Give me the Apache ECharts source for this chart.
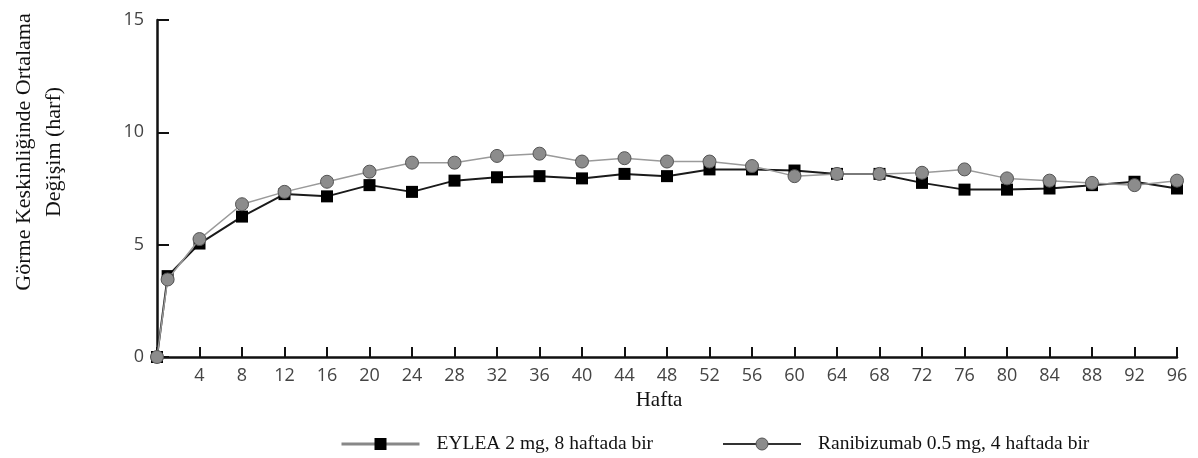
<!DOCTYPE html>
<html>
<head>
<meta charset="utf-8">
<script src="https://cdn.jsdelivr.net/npm/echarts@6/dist/echarts.min.js"></script>
<style>
html,body{margin:0;padding:0;background:#fff;}
#chart{width:1198px;height:458px;}
</style>
</head>
<body>
<div id="chart"></div>
<script>
// Weeks (x values)
const weeks = [0, 1, 4, 8, 12, 16, 20, 24, 28, 32, 36, 40, 44, 48, 52, 56, 60, 64, 68, 72, 76, 80, 84, 88, 92, 96];
// EYLEA 2 mg, every 8 weeks
const eylea = [0, 3.6, 5.05, 6.25, 7.25, 7.15, 7.65, 7.35, 7.85, 8.0, 8.05, 7.95, 8.15, 8.05, 8.35, 8.35, 8.3, 8.15, 8.15, 7.75, 7.45, 7.45, 7.5, 7.65, 7.8, 7.5];
// Ranibizumab 0.5 mg, every 4 weeks
const rani = [0, 3.45, 5.25, 6.8, 7.35, 7.8, 8.25, 8.65, 8.65, 8.95, 9.05, 8.7, 8.85, 8.7, 8.7, 8.5, 8.05, 8.15, 8.15, 8.2, 8.35, 7.95, 7.85, 7.75, 7.65, 7.85];
const yTicks = [0, 5, 10, 15];
const xTickStep = 4;
const names = ['EYLEA 2 mg, 8 haftada bir', 'Ranibizumab 0.5 mg, 4 haftada bir'];
const yTitle = 'Görme Keskinliğinde Ortalama\nDeğişim (harf)';
const xTitle = 'Hafta';

const chart = echarts.init(document.getElementById('chart'), null, {renderer: 'canvas'});
const labelFont = {fontFamily: 'Open Sans', fontSize: 18, color: '#444'};
const serif = 'Liberation Serif';

const legendCommon = {
  orient: 'horizontal',
  top: 429,
  itemWidth: 78,
  itemHeight: 15,
  textStyle: {fontFamily: serif, fontSize: 19.5, color: '#111', padding: [0, 0, 0, 12]},
  selectedMode: false
};

chart.setOption({
  animation: false,
  backgroundColor: '#fff',
  grid: {left: 157, right: 21, top: 20, bottom: 101, containLabel: false},
  xAxis: {
    type: 'value',
    min: 0, max: 96, interval: xTickStep,
    name: xTitle,
    nameLocation: 'middle',
    nameGap: 24,
    nameTextStyle: {fontFamily: serif, fontSize: 21, color: '#111', padding: [0, 16, 0, 0]},
    axisLine: {show: true, onZero: false, lineStyle: {color: '#111', width: 2.5}},
    axisTick: {show: true, inside: true, length: 10, lineStyle: {color: '#111', width: 2}},
    axisLabel: Object.assign({margin: 10, formatter: v => v === 0 ? '' : String(v)}, labelFont),
    splitLine: {show: false}
  },
  yAxis: {
    type: 'value',
    min: yTicks[0], max: yTicks[yTicks.length - 1], interval: yTicks[1] - yTicks[0],
    axisLine: {show: true, lineStyle: {color: '#111', width: 2.5}},
    axisTick: {show: true, inside: true, length: 12, lineStyle: {color: '#111', width: 2}},
    axisLabel: Object.assign({margin: 13}, labelFont),
    splitLine: {show: false}
  },
  legend: [
    Object.assign({}, legendCommon, {
      left: 335,
      data: [{name: names[0], lineStyle: {color: '#888', width: 3}, itemStyle: {color: '#000'}}]
    }),
    Object.assign({}, legendCommon, {
      left: 717,
      data: [{name: names[1], lineStyle: {color: '#333', width: 2}, itemStyle: {color: '#8c8c8c', borderColor: '#555', borderWidth: 1}}]
    })
  ],
  graphic: [{
    type: 'text',
    x: 39, y: 152,
    rotation: Math.PI / 2,
    style: {
      text: yTitle,
      fontFamily: serif, fontSize: 22, fill: '#111',
      align: 'center', verticalAlign: 'middle', lineHeight: 30
    }
  }],
  series: [
    {
      name: names[0],
      type: 'line',
      data: weeks.map((w, i) => [w, eylea[i]]),
      symbol: 'rect',
      symbolSize: 12,
      itemStyle: {color: '#000'},
      lineStyle: {color: '#1a1a1a', width: 2},
      z: 2
    },
    {
      name: names[1],
      type: 'line',
      data: weeks.map((w, i) => [w, rani[i]]),
      symbol: 'circle',
      symbolSize: 13,
      itemStyle: {color: '#8c8c8c', borderColor: '#555', borderWidth: 1},
      lineStyle: {color: '#9a9a9a', width: 1.5},
      z: 3
    }
  ]
});
</script>
</body>
</html>
